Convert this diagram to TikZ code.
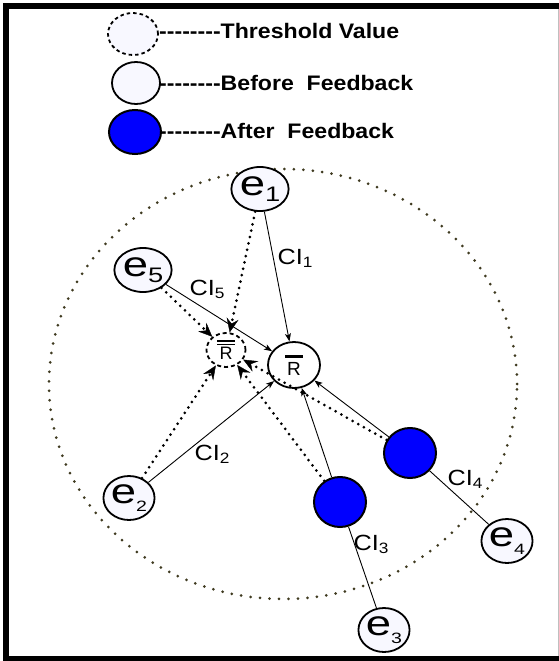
\documentclass[tikz,border=0pt]{standalone}
\usepackage{fontspec}
\setmainfont{Liberation Sans}
\usetikzlibrary{shapes.geometric,arrows.meta}
\definecolor{ghost}{HTML}{F8F8FF}
\definecolor{dotolive}{HTML}{3F3A20}
\definecolor{fbblue}{HTML}{0000FF}
\newcommand\mydashes{\mbox{-}\mbox{-}\mbox{-}\mbox{-}\mbox{-}\mbox{-}\mbox{-}\mbox{-}}
\newcommand\legtext[1]{\scalebox{1.1}[1]{\fontsize{21}{22}\selectfont\bfseries\mydashes #1}}
\newcommand\ebig[1]{\scalebox{1.3}[1]{\fontsize{35}{35}\selectfont e\raisebox{-6pt}{\fontsize{21}{21}\selectfont #1}}}
\newcommand\esmall[1]{\scalebox{1.3}[1]{\fontsize{35}{35}\selectfont e\raisebox{-8pt}{\fontsize{15}{15}\selectfont #1}}}
\newcommand\cilab[1]{\scalebox{1.15}[1]{\fontsize{22}{22}\selectfont CI\raisebox{-3pt}{\fontsize{15}{15}\selectfont #1}}}
\newcommand\rdouble{\vbox{\offinterlineskip\halign{\hfil##\hfil\cr\rule{18pt}{1.6pt}\cr\noalign{\vskip1.6pt}\rule{18pt}{1.6pt}\cr\noalign{\vskip2pt}\fontsize{18}{18}\selectfont R\cr}}}
\newcommand\rsingle{\vbox{\offinterlineskip\halign{\hfil##\hfil\cr\rule{18pt}{3pt}\cr\noalign{\vskip4pt}\fontsize{19}{19}\selectfont R\cr}}}
\begin{document}
\begin{tikzpicture}[x=1pt,y=-1pt,
  enode/.style={ellipse, draw, line width=1.8pt, fill=ghost, minimum width=48pt, minimum height=44pt, inner sep=0pt},
  bnode/.style={ellipse, draw, line width=2pt, fill=fbblue, minimum width=52pt, minimum height=50pt, inner sep=0pt},
  thnode/.style={ellipse, draw, line width=1.8pt, fill=ghost, dash pattern=on 3.5pt off 3pt, inner sep=0pt},
  legtxt/.style={anchor=base west, inner sep=0pt},
  cinode/.style={inner sep=0pt},
  solidarrow/.style={line width=0.9pt, -{Stealth[length=8pt,width=6pt,inset=2pt]}},
  solidline/.style={line width=0.9pt},
  dotarrow/.style={line width=3pt, line cap=round, dash pattern=on 0pt off 6.5pt, -{Stealth[length=14pt,width=12pt,inset=5pt,line width=0.4pt]}},
]
\useasboundingbox (0,0) rectangle (559,661);
% frame
\draw[line width=6pt] (559,6) -- (6,6) -- (6,659) -- (559,659);
\draw[line width=1pt, black!25] (558,9) -- (558,656);
% threshold zone
\node[ellipse, draw=dotolive, line width=3pt, line cap=round, dash pattern=on 0pt off 9.5pt, minimum width=468pt, minimum height=430pt, inner sep=0pt] (zone) at (283,384) {};
% legend
\node[thnode, minimum width=50pt, minimum height=42pt] (lth) at (133,34) {};
\node[enode, minimum width=48pt, minimum height=42pt] (lbf) at (136,83) {};
\node[bnode, minimum width=52pt, minimum height=44pt] (laf) at (135,132) {};
\node[legtxt] (tth) at (159,39) {\legtext{Threshold Value}};
\node[legtxt] (tbf) at (159,90) {\legtext{Before\ \ Feedback}};
\node[legtxt] (taf) at (159,138.5) {\legtext{After\ \ Feedback}};
% main nodes
\node[enode] (e1) at (260,189) {\ebig{1}};
\node[enode] (e5) at (143,270) {\ebig{5}};
\node[enode] (e2) at (129,498) {\esmall{2}};
\node[enode] (e3) at (384,630) {\esmall{3}};
\node[enode] (e4) at (507,541) {\esmall{4}};
\node[thnode, minimum width=39pt, minimum height=34pt, fill=white, line width=1.8pt, dash pattern=on 4pt off 3pt] (R2) at (226,350) {\rdouble};
\node[ellipse, draw, line width=1.8pt, minimum width=52pt, minimum height=46pt, inner sep=0pt] (Rb) at (294,365) {\rsingle};
\node[bnode] (B1) at (410,453) {};
\node[bnode] (B2) at (340,502) {};
% solid connectors
\draw[solidarrow] (e1) -- (Rb);
\draw[solidarrow] (e5) -- (Rb);
\draw[solidarrow] (e2) -- (Rb);
\draw[solidarrow] (B2) -- (Rb);
\draw[solidarrow] (B1) -- (Rb);
\draw[solidline] (e3) -- (B2);
\draw[solidline] (e4) -- (B1);
% dotted connectors
\draw[dotarrow] (e1) -- (R2);
\draw[dotarrow] (e5) -- (R2);
\draw[dotarrow] (e2) -- (R2);
\draw[dotarrow] (B2) -- (R2);
\draw[dotarrow] (B1) -- (R2);
% CI labels
\node[cinode] (c1) at (295,258) {\cilab{1}};
\node[cinode] (c5) at (207,289) {\cilab{5}};
\node[cinode] (c2) at (212,454) {\cilab{2}};
\node[cinode] (c3) at (371,544) {\cilab{3}};
\node[cinode] (c4) at (465,479) {\cilab{4}};
\end{tikzpicture}
\end{document}
